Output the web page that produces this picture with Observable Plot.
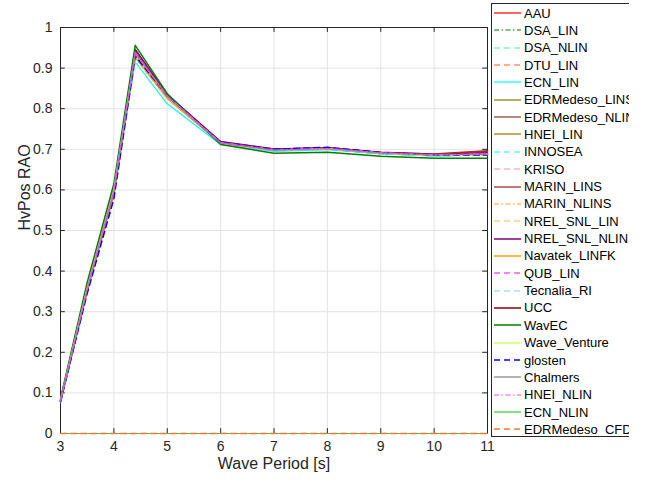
<!DOCTYPE html>
<html>
<head>
<meta charset="utf-8">
<script src="https://cdn.jsdelivr.net/npm/d3@7"></script>
<script src="https://cdn.jsdelivr.net/npm/@observablehq/plot@0.6"></script>
<style>
  html, body { margin: 0; padding: 0; background: #fff; width: 654px; height: 484px; overflow: hidden; }
  #wrap { position: relative; width: 654px; height: 484px; font-family: "Liberation Sans", Arial, Helvetica, sans-serif; }
  #legend { position: absolute; left: 491px; top: 3px; width: 138px; height: 434px; border: 1px solid #262626; border-right: none; background: #fff; box-sizing: border-box; overflow: hidden; }
  .row { position: absolute; left: 0; height: 16px; display: flex; align-items: center; white-space: nowrap; font-size: 13px; color: #000; }
  .row svg { display: block; margin-left: 2px; margin-right: 3px; flex: none; }
</style>
</head>
<body>
<div id="wrap"><div id="chart"></div><div id="legend"></div></div>
<script>
const periods = [3, 3.5, 4, 4.4, 5, 6, 7, 8, 9, 10, 11];
const xTicks = [3, 4, 5, 6, 7, 8, 9, 10, 11];
const yTicks = [0, 0.1, 0.2, 0.3, 0.4, 0.5, 0.6, 0.7, 0.8, 0.9, 1];

const seriesNames = ["AAU", "DSA_LIN", "DSA_NLIN", "DTU_LIN", "ECN_LIN", "EDRMedeso_LINS", "EDRMedeso_NLINS",
  "HNEI_LIN", "INNOSEA", "KRISO", "MARIN_LINS", "MARIN_NLINS", "NREL_SNL_LIN", "NREL_SNL_NLIN",
  "Navatek_LINFK", "QUB_LIN", "Tecnalia_RI", "UCC", "WavEC", "Wave_Venture", "glosten", "Chalmers",
  "HNEI_NLIN", "ECN_NLIN", "EDRMedeso_CFD"];

const AAU            = [0.080, 0.356, 0.598, 0.940, 0.830, 0.716, 0.699, 0.702, 0.691, 0.687, 0.695];
const DSA_LIN        = [0.082, 0.360, 0.603, 0.945, 0.833, 0.716, 0.697, 0.700, 0.689, 0.684, 0.686];
const DSA_NLIN       = [0.082, 0.359, 0.601, 0.942, 0.832, 0.716, 0.697, 0.700, 0.689, 0.684, 0.686];
const DTU_LIN        = [0.080, 0.352, 0.592, 0.932, 0.828, 0.715, 0.697, 0.701, 0.690, 0.685, 0.687];
const ECN_LIN        = [0.076, 0.350, 0.590, 0.915, 0.812, 0.712, 0.695, 0.699, 0.689, 0.683, 0.686];
const EDRMedeso_LINS = [0.080, 0.355, 0.597, 0.938, 0.830, 0.716, 0.698, 0.702, 0.691, 0.686, 0.690];
const EDRMedeso_NLINS= [0.080, 0.355, 0.596, 0.937, 0.829, 0.716, 0.698, 0.702, 0.691, 0.686, 0.691];
const HNEI_LIN       = [0.081, 0.357, 0.599, 0.940, 0.831, 0.716, 0.698, 0.702, 0.691, 0.686, 0.688];
const INNOSEA        = [0.079, 0.353, 0.594, 0.930, 0.826, 0.715, 0.698, 0.702, 0.691, 0.686, 0.688];
const KRISO          = [0.080, 0.356, 0.598, 0.936, 0.829, 0.716, 0.698, 0.702, 0.691, 0.686, 0.689];
const MARIN_LINS     = [0.080, 0.356, 0.599, 0.944, 0.833, 0.718, 0.700, 0.703, 0.692, 0.687, 0.694];
const MARIN_NLINS    = [0.080, 0.354, 0.595, 0.933, 0.828, 0.716, 0.698, 0.702, 0.691, 0.686, 0.689];
const NREL_SNL_LIN   = [0.079, 0.351, 0.590, 0.928, 0.826, 0.715, 0.698, 0.702, 0.691, 0.686, 0.687];
const NREL_SNL_NLIN  = [0.081, 0.358, 0.601, 0.946, 0.835, 0.719, 0.701, 0.704, 0.693, 0.688, 0.691];
const Navatek_LINFK  = [0.079, 0.350, 0.588, 0.926, 0.825, 0.715, 0.698, 0.702, 0.691, 0.686, 0.688];
const QUB_LIN        = [0.080, 0.355, 0.597, 0.938, 0.830, 0.716, 0.699, 0.703, 0.692, 0.686, 0.689];
const Tecnalia_RI    = [0.080, 0.354, 0.595, 0.934, 0.828, 0.716, 0.698, 0.702, 0.691, 0.686, 0.688];
const UCC            = [0.080, 0.356, 0.598, 0.940, 0.831, 0.717, 0.700, 0.703, 0.692, 0.688, 0.696];
const WavEC          = [0.086, 0.372, 0.615, 0.956, 0.837, 0.712, 0.690, 0.693, 0.683, 0.678, 0.678];
const Wave_Venture   = [0.081, 0.358, 0.600, 0.935, 0.830, 0.716, 0.698, 0.702, 0.691, 0.685, 0.686];
const glosten        = [0.078, 0.345, 0.578, 0.930, 0.831, 0.717, 0.700, 0.705, 0.692, 0.686, 0.686];
const Chalmers       = [0.080, 0.355, 0.597, 0.937, 0.830, 0.716, 0.698, 0.702, 0.691, 0.686, 0.688];
const HNEI_NLIN      = [0.080, 0.356, 0.598, 0.939, 0.831, 0.716, 0.698, 0.702, 0.691, 0.686, 0.688];
const ECN_NLIN       = [0, 0, 0, 0, 0, 0, 0, 0, 0, 0, 0];
const EDRMedeso_CFD  = [0, 0, 0, 0, 0, 0, 0, 0, 0, 0, 0];

const seriesValues = [AAU, DSA_LIN, DSA_NLIN, DTU_LIN, ECN_LIN, EDRMedeso_LINS, EDRMedeso_NLINS,
  HNEI_LIN, INNOSEA, KRISO, MARIN_LINS, MARIN_NLINS, NREL_SNL_LIN, NREL_SNL_NLIN, Navatek_LINFK,
  QUB_LIN, Tecnalia_RI, UCC, WavEC, Wave_Venture, glosten, Chalmers, HNEI_NLIN, ECN_NLIN, EDRMedeso_CFD];

// styles: [color, dash, width]
const SOLID = null, DASH = "6,4", DASHDOT = "5,2.5,1.5,2.5";
const seriesStyles = [
  ["#ff0000", SOLID, 1.2], ["#008000", DASHDOT, 1.2], ["#33ff99", DASH, 1.2], ["#ff5a1f", DASH, 1.2],
  ["#00ffff", SOLID, 1.2], ["#808000", SOLID, 1.2], ["#7f3f1f", SOLID, 1.2], ["#c8a040", SOLID, 1.8],
  ["#00ffff", DASH, 1.2], ["#ff88aa", DASH, 1.2], ["#a0524f", SOLID, 1.5], ["#ffa500", DASHDOT, 1.2],
  ["#ffb84d", DASH, 1.2], ["#800080", SOLID, 1.5], ["#ffa500", SOLID, 1.5], ["#ff00ff", DASH, 1.2],
  ["#88ccff", DASH, 1.2], ["#a52a2a", SOLID, 1.8], ["#008000", SOLID, 1.5], ["#ccff66", SOLID, 1.5],
  ["#0000ff", DASH, 1.5], ["#808080", SOLID, 1.2], ["#ff44ff", DASHDOT, 1.2], ["#33cc33", SOLID, 1.2],
  ["#ee7733", DASH, 1.5]
];

const lineMarks = seriesNames.map((name, i) => {
  const rows = periods.map((p, j) => ({period: p, value: seriesValues[i][j]}));
  const [c, d, w] = seriesStyles[i];
  return Plot.line(rows, {x: "period", y: "value", stroke: c, strokeWidth: w, strokeDasharray: d});
});

const axisColor = "#262626";
const chart = Plot.plot({
  width: 654, height: 484,
  marginLeft: 60, marginRight: 167, marginTop: 27, marginBottom: 51,
  x: {domain: [3, 11]},
  y: {domain: [0, 1]},
  style: {fontFamily: '"Liberation Sans", Arial, Helvetica, sans-serif', background: "transparent", color: axisColor},
  marks: [
    Plot.gridX(xTicks, {stroke: "#e3e3e3", strokeOpacity: 1}),
    Plot.gridY(yTicks, {stroke: "#e3e3e3", strokeOpacity: 1}),
    Plot.axisX(xTicks, {tickSize: 0, tickPadding: 8, fontSize: 14, tickFormat: d => String(d), label: null, fill: axisColor}),
    Plot.axisY(yTicks, {tickSize: 0, tickPadding: 8, fontSize: 14, tickFormat: d => String(d), label: null, fill: axisColor}),
    Plot.text(["Wave Period [s]"], {text: d => d, frameAnchor: "bottom", dy: 35, fontSize: 16, fill: axisColor}),
    Plot.text(["HvPos RAO"], {text: d => d, frameAnchor: "left", dx: -36, rotate: -90, fontSize: 16, fill: axisColor}),
    Plot.frame({stroke: axisColor, strokeWidth: 1}),
    Plot.ruleX(xTicks, {y1: 0, y2: 0.012, stroke: axisColor}),
    Plot.ruleX(xTicks, {y1: 0.988, y2: 1, stroke: axisColor}),
    Plot.ruleY(yTicks, {x1: 3, x2: 3.09, stroke: axisColor}),
    Plot.ruleY(yTicks, {x1: 10.91, x2: 11, stroke: axisColor}),
    ...lineMarks
  ]
});
document.getElementById("chart").appendChild(chart);

// legend (clipped at its right side, as in the reference)
const legend = document.getElementById("legend");
seriesNames.forEach((name, i) => {
  const [c, d, w] = seriesStyles[i];
  const row = document.createElement("div");
  row.className = "row";
  row.style.top = (1 + i * 17.35) + "px";
  const ns = "http://www.w3.org/2000/svg";
  const s = document.createElementNS(ns, "svg");
  s.setAttribute("width", 27); s.setAttribute("height", 10);
  const ln = document.createElementNS(ns, "line");
  ln.setAttribute("x1", 0); ln.setAttribute("x2", 27); ln.setAttribute("y1", 5); ln.setAttribute("y2", 5);
  ln.setAttribute("stroke", c); ln.setAttribute("stroke-width", w);
  if (d) ln.setAttribute("stroke-dasharray", d);
  s.appendChild(ln);
  const t = document.createElement("span");
  t.textContent = name;
  row.appendChild(s); row.appendChild(t);
  legend.appendChild(row);
});
</script>
</body>
</html>
